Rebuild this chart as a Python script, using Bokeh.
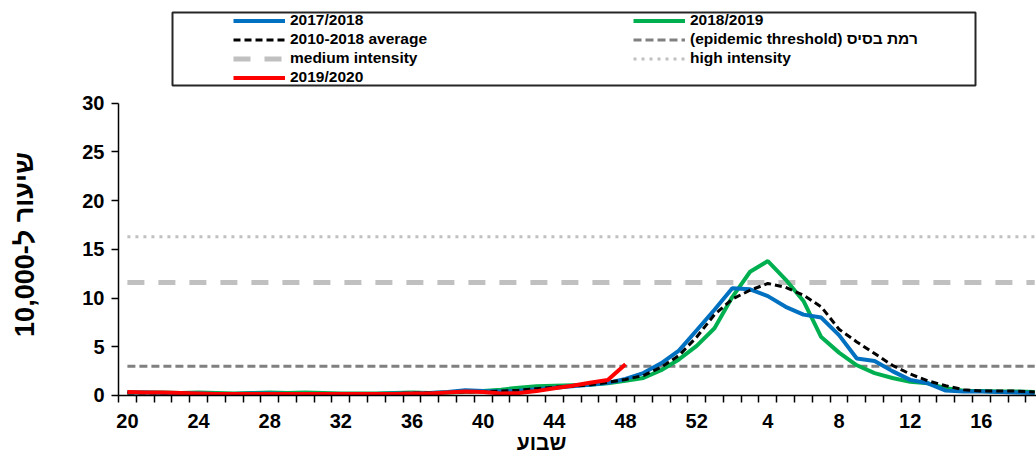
from bokeh.plotting import figure
from bokeh.models import Range1d, FixedTicker, Legend, LegendItem, Label, BoxAnnotation
from bokeh.embed import file_html
from bokeh.resources import INLINE

# ---- data ----
weeks = [20, 21, 22, 23, 24, 25, 26, 27, 28, 29, 30, 31, 32, 33, 34, 35, 36, 37, 38, 39,
         40, 41, 42, 43, 44, 45, 46, 47, 48, 49, 50, 51, 52, 1, 2, 3, 4, 5, 6, 7,
         8, 9, 10, 11, 12, 13, 14, 15, 16, 17, 18, 19]

season_2017_2018 = [0.3, 0.3, 0.25, 0.25, 0.2, 0.15, 0.15, 0.2, 0.2, 0.15, 0.15, 0.15, 0.15, 0.15, 0.15, 0.2, 0.2, 0.25,
                    0.35, 0.55, 0.45, 0.4, 0.5, 0.65, 0.8, 0.95, 1.1, 1.3, 1.7, 2.3, 3.3, 4.6, 6.7, 8.8,
                    11.0, 10.9, 10.2, 9.1, 8.3, 8.0, 6.2, 3.8, 3.55, 2.5, 1.6, 1.25, 0.5, 0.4, 0.4, 0.35, 0.3, 0.25]

season_2018_2019 = [0.3, 0.3, 0.3, 0.25, 0.3, 0.25, 0.2, 0.25, 0.3, 0.25, 0.3, 0.25, 0.2, 0.2, 0.2, 0.25, 0.3, 0.25,
                    0.3, 0.35, 0.45, 0.6, 0.8, 0.95, 1.0, 1.05, 1.1, 1.25, 1.5, 1.8, 2.6, 3.7, 5.1, 6.9,
                    10.1, 12.7, 13.8, 11.9, 9.7, 6.0, 4.4, 3.1, 2.3, 1.8, 1.4, 1.25, 0.75, 0.5, 0.45, 0.4, 0.4, 0.35]

average_2010_2018 = [0.25, 0.25, 0.25, 0.25, 0.2, 0.2, 0.2, 0.2, 0.2, 0.2, 0.2, 0.2, 0.2, 0.2, 0.2, 0.2, 0.25, 0.25,
                     0.3, 0.35, 0.4, 0.45, 0.55, 0.7, 0.85, 0.95, 1.1, 1.35, 1.65, 2.05, 2.9, 4.1, 6.0, 8.3,
                     9.9, 10.8, 11.5, 11.1, 10.3, 9.1, 6.8, 5.5, 4.3, 3.1, 2.2, 1.5, 1.0, 0.6, 0.45, 0.45, 0.45, 0.35]

season_2019_2020 = [0.35, 0.3, 0.3, 0.25, 0.2, 0.15, 0.15, 0.15, 0.15, 0.15, 0.15, 0.15, 0.15, 0.15, 0.15, 0.15,
                    0.2, 0.2, 0.3, 0.4, 0.35, 0.2, 0.25, 0.45, 0.75, 1.0, 1.3, 1.6, 3.2]

epidemic_threshold = 3.0
medium_intensity = 11.6
high_intensity = 16.3

tick_weeks = [20, 24, 28, 32, 36, 40, 44, 48, 52, 4, 8, 12, 16]
y_ticks = [0, 5, 10, 15, 20, 25, 30]
y_bounds = (0, 30)

label_2017 = "2017/2018"
label_2018 = "2018/2019"
label_avg = "2010-2018 average"
label_epi = "(epidemic threshold) רמת בסיס"
label_med = "medium intensity"
label_high = "high intensity"
label_2019 = "2019/2020"
y_title = "שיעור ל-10,000"
x_title = "שבוע"

# ---- derived positions (category index) ----
idx = list(range(len(weeks)))
tick_pos = [weeks.index(w) for w in tick_weeks]
boundaries = [i - 0.5 for i in range(len(weeks) + 1)]

FONT = "Liberation Sans"
W, H = 1036, 456

# the frame covers the whole canvas; axes are drawn at fixed locations inside it
p = figure(width=W, height=H, output_backend="svg", toolbar_location=None,
           x_range=Range1d(-7.133, 51.10), y_range=Range1d(-6.261, 40.54),
           min_border_left=0, min_border_right=0, min_border_top=0, min_border_bottom=0)
p.outline_line_color = None
p.xgrid.visible = False
p.ygrid.visible = False
p.background_fill_color = "white"
p.border_fill_color = "white"

# threshold lines
r_epi = p.line(idx, [epidemic_threshold] * len(idx), line_color="#808080", line_width=3, line_dash="8 4")
r_med = p.line(idx, [medium_intensity] * len(idx), line_color="#C0C0C0", line_width=5, line_dash="17 14")
r_high = p.line(idx, [high_intensity] * len(idx), line_color="#C0C0C0", line_width=3, line_dash="3 5")

# series
r_green = p.line(idx, season_2018_2019, line_color="#00B050", line_width=4)
r_blue = p.line(idx, season_2017_2018, line_color="#0070C0", line_width=4)
r_avg = p.line(idx, average_2010_2018, line_color="black", line_width=3, line_dash="7 4")
r_red = p.line(idx[:len(season_2019_2020)], season_2019_2020, line_color="#FF0000", line_width=4)

# x axis
xa = p.xaxis[0]
xa.fixed_location = y_bounds[0]
xa.bounds = (boundaries[0], boundaries[-1])
xa.ticker = FixedTicker(ticks=tick_pos, minor_ticks=boundaries)
xa.major_label_overrides = {pos: str(w) for pos, w in zip(tick_pos, tick_weeks)}
xa.major_tick_out = 0
xa.major_tick_in = 0
xa.minor_tick_out = 7
xa.minor_tick_in = 0
xa.minor_tick_line_color = "black"
xa.minor_tick_line_width = 1.5
xa.axis_line_color = "black"
xa.axis_line_width = 1.5
xa.major_label_standoff = 12
xa.major_label_text_font = FONT
xa.major_label_text_font_style = "bold"
xa.major_label_text_font_size = "20px"
xa.major_label_text_color = "black"

# y axis
ya = p.yaxis[0]
ya.fixed_location = boundaries[0]
ya.bounds = y_bounds
ya.ticker = FixedTicker(ticks=y_ticks)
ya.major_tick_out = 7
ya.major_tick_in = 0
ya.minor_tick_out = 0
ya.minor_tick_in = 0
ya.major_tick_line_color = "black"
ya.major_tick_line_width = 1.5
ya.axis_line_color = "black"
ya.axis_line_width = 1.5
ya.major_label_standoff = 7
ya.major_label_text_font = FONT
ya.major_label_text_font_style = "bold"
ya.major_label_text_font_size = "20px"
ya.major_label_text_color = "black"

# titles (screen units: from bottom-left of the frame = canvas)
p.add_layout(Label(x=24, y=H - 244, x_units="screen", y_units="screen", text=y_title, angle=1.5708,
                   text_font=FONT, text_font_style="bold", text_font_size="27px",
                   text_align="center", text_baseline="middle", text_color="black"))
p.add_layout(Label(x=541, y=14, x_units="screen", y_units="screen", text=x_title,
                   text_font=FONT, text_font_style="bold", text_font_size="21px",
                   text_align="center", text_baseline="middle", text_color="black"))

# legend border box
p.add_layout(BoxAnnotation(left=172, right=975, top=H - 12, bottom=H - 85,
                           left_units="screen", right_units="screen",
                           top_units="screen", bottom_units="screen",
                           fill_alpha=0, line_color="#262626", line_alpha=1.0, line_width=2))

legend = Legend(items=[
    LegendItem(label=label_2017, renderers=[r_blue]),
    LegendItem(label=label_avg, renderers=[r_avg]),
    LegendItem(label=label_med, renderers=[r_med]),
    LegendItem(label=label_2019, renderers=[r_red]),
    LegendItem(label=label_2018, renderers=[r_green]),
    LegendItem(label=label_epi, renderers=[r_epi]),
    LegendItem(label=label_high, renderers=[r_high]),
], location=(233, H - 86.5), orientation="vertical", ncols=2)
legend.padding = 0
legend.spacing = 0
legend.margin = 0
legend.glyph_width = 52
legend.glyph_height = 19
legend.label_height = 19
legend.label_width = 343
legend.label_standoff = 5
legend.label_text_font = FONT
legend.label_text_font_style = "bold"
legend.label_text_font_size = "15.5px"
legend.label_text_color = "black"
legend.label_text_baseline = "middle"
legend.border_line_color = None
legend.background_fill_alpha = 0
p.add_layout(legend, "center")

open("out.html", "w").write(file_html(p, INLINE))
